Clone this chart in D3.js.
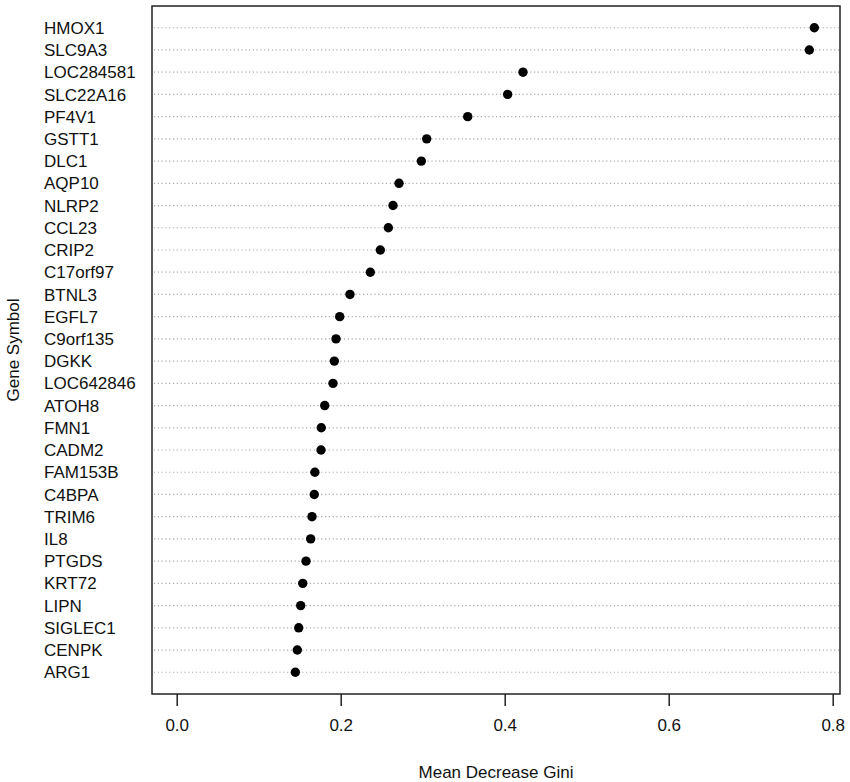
<!DOCTYPE html>
<html><head><meta charset="utf-8">
<script src="https://cdn.jsdelivr.net/npm/d3@7"></script>
<style>body{margin:0;background:#fff}</style>
</head><body>
<svg id="c" width="850" height="782"></svg>
<script>
const genes = ["HMOX1","SLC9A3","LOC284581","SLC22A16","PF4V1","GSTT1","DLC1","AQP10","NLRP2","CCL23","CRIP2","C17orf97","BTNL3","EGFL7","C9orf135","DGKK","LOC642846","ATOH8","FMN1","CADM2","FAM153B","C4BPA","TRIM6","IL8","PTGDS","KRT72","LIPN","SIGLEC1","CENPK","ARG1"];
const gini = [0.7776,0.7715,0.4223,0.4036,0.3549,0.3049,0.2983,0.2711,0.2638,0.2581,0.2483,0.2361,0.2113,0.1988,0.1943,0.1922,0.1906,0.1805,0.1763,0.1760,0.1685,0.1678,0.1650,0.1634,0.1577,0.1537,0.1512,0.1488,0.1471,0.1447];
const xTicks = [0,0.2,0.4,0.6,0.8];
const xTitle = "Mean Decrease Gini";
const yTitle = "Gene Symbol";

const svg = d3.select("#c");
const box = {l:152, r:840, t:6, b:694};
const font = "Liberation Sans, Arial, Helvetica, sans-serif";
const fs = 17;

const x = d3.scaleLinear().domain([0,0.8]).range([176.7,832.7]);
const n = genes.length;
const y = d3.scaleLinear().domain([0,n+1]).range([box.b+0.5, box.t-0.5]);
const rowY = i => y(n - i);

svg.append("g").selectAll("line").data(genes).join("line")
  .attr("x1", box.l+2).attr("x2", box.r-1)
  .attr("y1", (d,i)=>rowY(i)).attr("y2", (d,i)=>rowY(i))
  .attr("stroke", "#aaaaaa").attr("stroke-width", 1.2)
  .attr("stroke-dasharray", "1.2,2.6");

svg.append("g").selectAll("circle").data(gini).join("circle")
  .attr("cx", d=>x(d)).attr("cy", (d,i)=>rowY(i)).attr("r", 4.7)
  .attr("fill", "#000");

svg.append("g").selectAll("text").data(genes).join("text")
  .attr("x", 44).attr("y", (d,i)=>rowY(i)).attr("dy", "0.36em")
  .attr("font-family", font).attr("font-size", fs).attr("fill", "#111")
  .text(d=>d);

svg.append("rect").attr("x", box.l).attr("y", box.t)
  .attr("width", box.r-box.l).attr("height", box.b-box.t)
  .attr("fill", "none").attr("stroke", "#222").attr("stroke-width", 1.5);

const axis = d3.axisBottom(x).tickValues(xTicks).tickSize(12).tickPadding(13)
  .tickFormat(d3.format(".1f"));
const ag = svg.append("g").attr("transform", `translate(0,${box.b})`).call(axis);
ag.select(".domain").remove();
ag.selectAll(".tick line").attr("stroke", "#222").attr("stroke-width", 1.5);
ag.selectAll(".tick text").attr("font-family", font).attr("font-size", fs).attr("fill", "#111");

svg.append("text").attr("x", (box.l+box.r)/2).attr("y", 772).attr("dy","0.36em")
  .attr("text-anchor","middle").attr("font-family", font).attr("font-size", fs).attr("fill","#111")
  .text(xTitle);

svg.append("text").attr("transform", `translate(13,${(box.t+box.b)/2}) rotate(-90)`)
  .attr("dy","0.36em").attr("text-anchor","middle").attr("font-family", font)
  .attr("font-size", fs).attr("fill","#111").text(yTitle);
</script>
</body></html>
